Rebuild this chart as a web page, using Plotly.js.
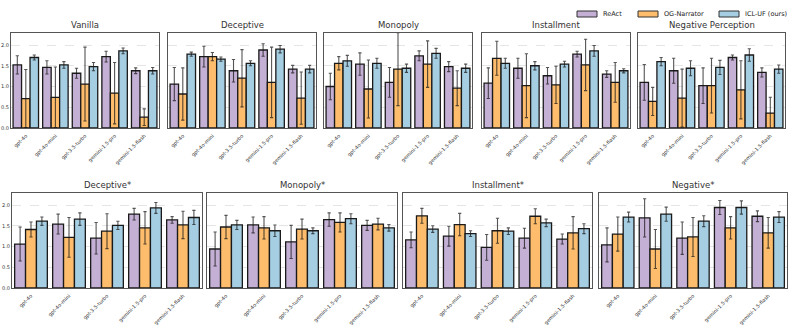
<!DOCTYPE html>
<html>
<head>
<meta charset="utf-8">
<script src="https://cdn.plot.ly/plotly-3.0.1.min.js"></script>
<style>
  body { margin: 0; background: #fff; }
  #chart { width: 793px; height: 325px; }
</style>
</head>
<body>
<div id="chart"></div>
<script>
// models on the x axis of every panel
const models = ["gpt-4o", "gpt-4o-mini", "gpt-3.5-turbo", "gemini-1.5-pro", "gemini-1.5-flash"];
const methods = ["ReAct", "OG-Narrator", "ICL-UF (ours)"];

// top row
const vanilla_react = [1.52, 1.46, 1.32, 1.72, 1.38];
const vanilla_react_err = [0.22, 0.16, 0.12, 0.13, 0.07];
const vanilla_og = [0.71, 0.74, 1.06, 0.84, 0.26];
const vanilla_og_err = [0.70, 0.73, 0.89, 0.74, 0.20];
const vanilla_icl = [1.70, 1.52, 1.48, 1.86, 1.38];
const vanilla_icl_err = [0.06, 0.08, 0.10, 0.07, 0.08];

const deceptive_react = [1.06, 1.72, 1.38, 1.88, 1.42];
const deceptive_react_err = [0.40, 0.25, 0.27, 0.15, 0.09];
const deceptive_og = [0.82, 1.72, 1.20, 1.10, 0.72];
const deceptive_og_err = [0.63, 0.10, 0.69, 0.85, 0.63];
const deceptive_icl = [1.78, 1.66, 1.56, 1.90, 1.42];
const deceptive_icl_err = [0.05, 0.05, 0.06, 0.09, 0.09];

const monopoly_react = [1.00, 1.54, 1.10, 1.74, 1.48];
const monopoly_react_err = [0.32, 0.27, 0.36, 0.12, 0.12];
const monopoly_og = [1.56, 0.94, 1.42, 1.54, 0.96];
const monopoly_og_err = [0.16, 0.70, 0.88, 0.56, 0.42];
const monopoly_icl = [1.62, 1.56, 1.44, 1.80, 1.44];
const monopoly_icl_err = [0.13, 0.12, 0.10, 0.12, 0.10];

const installment_react = [1.08, 1.44, 1.26, 1.78, 1.30];
const installment_react_err = [0.37, 0.24, 0.20, 0.07, 0.08];
const installment_og = [1.68, 1.02, 1.04, 1.52, 1.10];
const installment_og_err = [0.41, 0.77, 0.45, 0.62, 0.48];
const installment_icl = [1.56, 1.50, 1.54, 1.86, 1.38];
const installment_icl_err = [0.12, 0.10, 0.07, 0.13, 0.05];

const negperc_react = [1.10, 1.38, 1.02, 1.70, 1.34];
const negperc_react_err = [0.43, 0.30, 0.43, 0.06, 0.11];
const negperc_og = [0.64, 0.72, 1.02, 0.92, 0.36];
const negperc_og_err = [0.34, 0.70, 0.66, 0.70, 0.38];
const negperc_icl = [1.60, 1.44, 1.46, 1.76, 1.42];
const negperc_icl_err = [0.10, 0.18, 0.17, 0.15, 0.10];

// bottom row
const deceptive2_react = [1.06, 1.54, 1.20, 1.78, 1.64];
const deceptive2_react_err = [0.41, 0.24, 0.38, 0.14, 0.08];
const deceptive2_og = [1.41, 1.22, 1.37, 1.45, 1.52];
const deceptive2_og_err = [0.18, 0.48, 0.42, 0.39, 0.33];
const deceptive2_icl = [1.61, 1.66, 1.51, 1.93, 1.70];
const deceptive2_icl_err = [0.10, 0.15, 0.10, 0.13, 0.17];

const monopoly2_react = [0.94, 1.52, 1.11, 1.65, 1.51];
const monopoly2_react_err = [0.41, 0.19, 0.40, 0.16, 0.12];
const monopoly2_og = [1.47, 1.45, 1.42, 1.58, 1.54];
const monopoly2_og_err = [0.28, 0.27, 0.24, 0.23, 0.14];
const monopoly2_icl = [1.52, 1.38, 1.38, 1.67, 1.45];
const monopoly2_icl_err = [0.11, 0.14, 0.07, 0.12, 0.08];

const installment2_react = [1.16, 1.25, 0.98, 1.20, 1.18];
const installment2_react_err = [0.19, 0.24, 0.31, 0.24, 0.12];
const installment2_og = [1.74, 1.53, 1.38, 1.73, 1.33];
const installment2_og_err = [0.18, 0.27, 0.30, 0.18, 0.39];
const installment2_icl = [1.42, 1.31, 1.37, 1.57, 1.43];
const installment2_icl_err = [0.08, 0.07, 0.08, 0.09, 0.12];

const negative2_react = [1.04, 1.69, 1.20, 1.94, 1.73];
const negative2_react_err = [0.41, 0.46, 0.39, 0.17, 0.13];
const negative2_og = [1.30, 0.94, 1.23, 1.45, 1.33];
const negative2_og_err = [0.41, 0.47, 0.47, 0.27, 0.37];
const negative2_icl = [1.71, 1.78, 1.61, 1.94, 1.71];
const negative2_icl_err = [0.12, 0.17, 0.13, 0.16, 0.13];

const colors = ["#c5b0d5", "#fdbd6c", "#a6cee3"];
const W = 793, H = 325;

// panel boxes in pixels: [left, right, top, bottom]
const panels = [
  {title: "Vanilla", box: [11, 159, 33, 128], d: [vanilla_react, vanilla_og, vanilla_icl], e: [vanilla_react_err, vanilla_og_err, vanilla_icl_err]},
  {title: "Deceptive", box: [168, 316, 33, 128], d: [deceptive_react, deceptive_og, deceptive_icl], e: [deceptive_react_err, deceptive_og_err, deceptive_icl_err]},
  {title: "Monopoly", box: [324, 472, 33, 128], d: [monopoly_react, monopoly_og, monopoly_icl], e: [monopoly_react_err, monopoly_og_err, monopoly_icl_err]},
  {title: "Installment", box: [482, 630, 33, 128], d: [installment_react, installment_og, installment_icl], e: [installment_react_err, installment_og_err, installment_icl_err]},
  {title: "Negative Perception", box: [638, 785, 33, 128], d: [negperc_react, negperc_og, negperc_icl], e: [negperc_react_err, negperc_og_err, negperc_icl_err]},
  {title: "Deceptive*", box: [12, 202, 193, 288], d: [deceptive2_react, deceptive2_og, deceptive2_icl], e: [deceptive2_react_err, deceptive2_og_err, deceptive2_icl_err]},
  {title: "Monopoly*", box: [207, 397, 193, 288], d: [monopoly2_react, monopoly2_og, monopoly2_icl], e: [monopoly2_react_err, monopoly2_og_err, monopoly2_icl_err]},
  {title: "Installment*", box: [403, 592, 193, 288], d: [installment2_react, installment2_og, installment2_icl], e: [installment2_react_err, installment2_og_err, installment2_icl_err]},
  {title: "Negative*", box: [599, 787, 193, 288], d: [negative2_react, negative2_og, negative2_icl], e: [negative2_react_err, negative2_og_err, negative2_icl_err]}
];

var data = [];
var layout = {
  width: W, height: H,
  margin: {l: 0, r: 0, t: 0, b: 0},
  paper_bgcolor: "#fff",
  plot_bgcolor: "#fff",
  font: {family: "DejaVu Sans", color: "#222"},
  barmode: "group",
  bargap: 0.14,
  bargroupgap: 0,
  showlegend: false,
  annotations: [],
  shapes: []
};

panels.forEach(function(p, i) {
  let n = i + 1;
  let xa = n === 1 ? "xaxis" : "xaxis" + n;
  let ya = n === 1 ? "yaxis" : "yaxis" + n;
  for (let k = 0; k < 3; k++) {
    data.push({
      type: "bar",
      x: models,
      y: p.d[k],
      name: methods[k],
      xaxis: "x" + (n === 1 ? "" : n),
      yaxis: "y" + (n === 1 ? "" : n),
      marker: {color: colors[k], line: {color: "#1a1a1a", width: 1.3}},
      error_y: {type: "data", array: p.e[k], visible: true, color: "rgba(20,20,20,0.72)", thickness: 1.1, width: 1.6},
      hoverinfo: "skip"
    });
  }
  let firstInRow = (i === 0 || i === 5);
  layout[xa] = {
    domain: [p.box[0] / W, p.box[1] / W],
    anchor: "y" + (n === 1 ? "" : n),
    tickangle: -45,
    tickfont: {size: 5, color: "#333"},
    showline: true, mirror: true, linecolor: "#555", linewidth: 1,
    ticks: "outside", ticklen: 2, tickcolor: "#fff",
    showgrid: false, fixedrange: true
  };
  layout[ya] = {
    domain: [1 - p.box[3] / H, 1 - p.box[2] / H],
    anchor: "x" + (n === 1 ? "" : n),
    range: [0, 2.29],
    tickvals: [0, 0.5, 1, 1.5, 2],
    ticktext: ["0.0", "0.5", "1.0", "1.5", "2.0"],
    showticklabels: firstInRow,
    tickfont: {size: 5, color: "#333"},
    ticks: "",
    showline: true, mirror: true, linecolor: "#555", linewidth: 1,
    showgrid: true, gridcolor: "#d4d4d4", griddash: "dash", gridwidth: 0.6,
    zeroline: false, fixedrange: true
  };
  layout.annotations.push({
    text: p.title, xref: "paper", yref: "paper",
    x: (p.box[0] + p.box[1]) / 2 / W, y: 1 - (p.box[2] - 1) / H,
    xanchor: "center", yanchor: "bottom", showarrow: false,
    font: {size: 8.5, color: "#333"}
  });
});

// legend patches drawn top right
const legendX = [577, 638, 719];
methods.forEach(function(m, k) {
  let x0 = legendX[k];
  layout.shapes.push({
    type: "rect", xref: "paper", yref: "paper",
    x0: x0 / W, x1: (x0 + 20) / W, y0: 1 - 17 / H, y1: 1 - 11 / H,
    fillcolor: colors[k], line: {color: "#333", width: 1}
  });
  layout.annotations.push({
    text: m, xref: "paper", yref: "paper",
    x: (x0 + 24) / W, y: 1 - 14 / H, xanchor: "left", yanchor: "middle",
    showarrow: false, font: {size: 6.5, color: "#222"}
  });
});

Plotly.newPlot("chart", data, layout, {displayModeBar: false, staticPlot: true});
</script>
</body>
</html>
